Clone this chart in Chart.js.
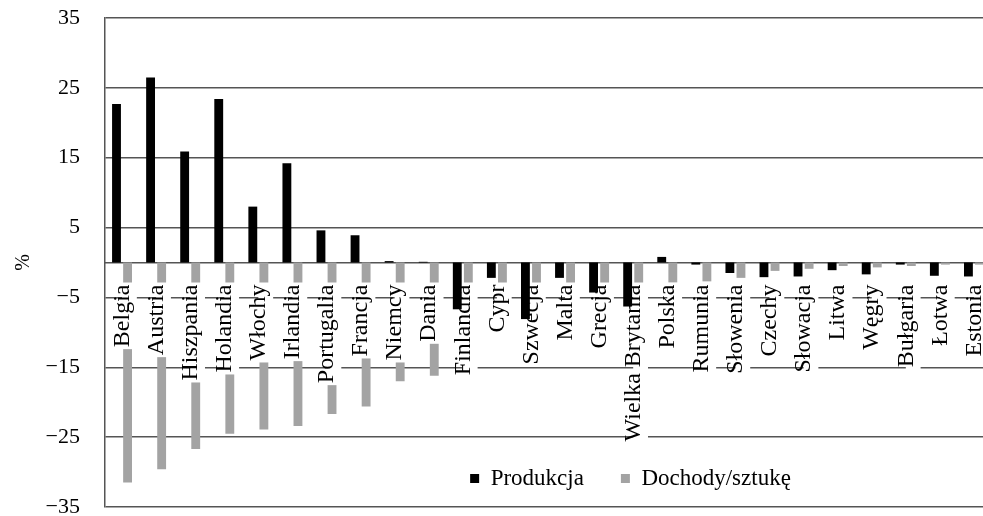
<!DOCTYPE html>
<html>
<head>
<meta charset="utf-8">
<script src="https://cdn.jsdelivr.net/npm/chart.js@4.4.1/dist/chart.umd.min.js"></script>
<style>
  html, body { margin: 0; padding: 0; background: #fff; overflow: hidden; width: 983px; height: 516px; }
  #wrap { position: absolute; left: 0; top: 0; width: 1000px; height: 530px; }
</style>
</head>
<body>
<div id="wrap"><canvas id="chart" width="1000" height="530"></canvas></div>
<script>
const categories = ['Belgia', 'Austria', 'Hiszpania', 'Holandia', 'Włochy', 'Irlandia', 'Portugalia', 'Francja',
  'Niemcy', 'Dania', 'Finlandia', 'Cypr', 'Szwecja', 'Malta', 'Grecja', 'Wielka Brytania', 'Polska', 'Rumunia',
  'Słowenia', 'Czechy', 'Słowacja', 'Litwa', 'Węgry', 'Bułgaria', 'Łotwa', 'Estonia'];
const produkcja = [22.7, 26.5, 15.9, 23.4, 8.0, 14.2, 4.6, 3.9, 0.2, 0.1, -6.7, -2.2, -8.1, -2.2, -4.3, -6.3,
  0.8, -0.3, -1.5, -2.1, -2.0, -1.1, -1.7, -0.3, -1.9, -2.0];
const dochody = [-31.5, -29.6, -26.7, -24.5, -23.9, -23.4, -21.7, -20.6, -17.0, -16.2, -14.0, -9.0, -8.0, -6.5,
  -5.5, -4.5, -2.9, -2.7, -2.2, -1.2, -0.9, -0.5, -0.7, -0.5, -0.3, -0.3];
const seriesNames = ['Produkcja', 'Dochody/sztukę'];
const yTicks = [35, 25, 15, 5, -5, -15, -25, -35];

const serif = "'Liberation Serif', 'Times New Roman', serif";
const lineGray = '#555';

// put the legend inside the plot, just above the bottom line
const legendInPlot = {
  id: 'legendInPlot',
  afterLayout(chart) {
    const lg = chart.legend;
    lg.top = 430;
    lg.bottom = 516;
    lg.height = lg.bottom - lg.top;
    lg.left = 340;
    lg.right = 921;
    lg.width = lg.right - lg.left;
  }
};

const ctx = document.getElementById('chart').getContext('2d');
const chart = new Chart(ctx, {
  type: 'bar',
  data: {
    labels: categories,
    datasets: [
      { label: seriesNames[0], data: produkcja, backgroundColor: '#000', borderWidth: 0 },
      { label: seriesNames[1], data: dochody, backgroundColor: '#a3a3a3', borderWidth: 0 }
    ]
  },
  options: {
    responsive: false,
    animation: false,
    devicePixelRatio: 1,
    barPercentage: 0.8,
    categoryPercentage: 0.65,
    layout: { padding: { left: 0, top: 18, right: 9, bottom: 22 } },
    plugins: {
      tooltip: { enabled: false },
      legend: {
        position: 'bottom',
        maxHeight: 1,
        labels: {
          color: '#000',
          font: { family: serif, size: 23 },
          boxWidth: 9,
          boxHeight: 9,
          padding: 37
        }
      }
    },
    scales: {
      x: {
        position: { y: 0 },
        grid: { display: false, drawTicks: false },
        border: { display: true, color: lineGray, width: 1.5 },
        ticks: {
          autoSkip: false,
          minRotation: 90,
          maxRotation: 90,
          padding: 22,
          labelOffset: -14,
          color: '#000',
          font: { family: serif, size: 24 },
          showLabelBackdrop: true,
          backdropColor: '#fff',
          backdropPadding: { top: -14, bottom: 0, left: 2, right: 2 },
          z: 1
        },
        afterFit(scale) {
          scale.height = 0;
          scale.paddingLeft = 0;
          scale.paddingRight = 0;
        }
      },
      y: {
        min: -35,
        max: 35,
        afterBuildTicks(scale) {
          scale.ticks = yTicks.map(v => ({ value: v }));
        },
        grid: { color: lineGray, lineWidth: 1.5, drawTicks: false },
        border: { display: true, color: lineGray, width: 1.5 },
        ticks: {
          padding: 25,
          color: '#000',
          font: { family: serif, size: 22 },
          callback: v => (v < 0 ? '\u2212' + Math.abs(v) : String(v))
        },
        title: {
          display: true,
          text: '%',
          color: '#000',
          font: { family: serif, size: 20 },
          padding: { top: 12, bottom: 0 }
        },
        afterFit(scale) {
          scale.width = 105;
          scale.paddingTop = 0;
          scale.paddingBottom = 0;
        }
      }
    }
  },
  plugins: [legendInPlot]
});
</script>
</body>
</html>
